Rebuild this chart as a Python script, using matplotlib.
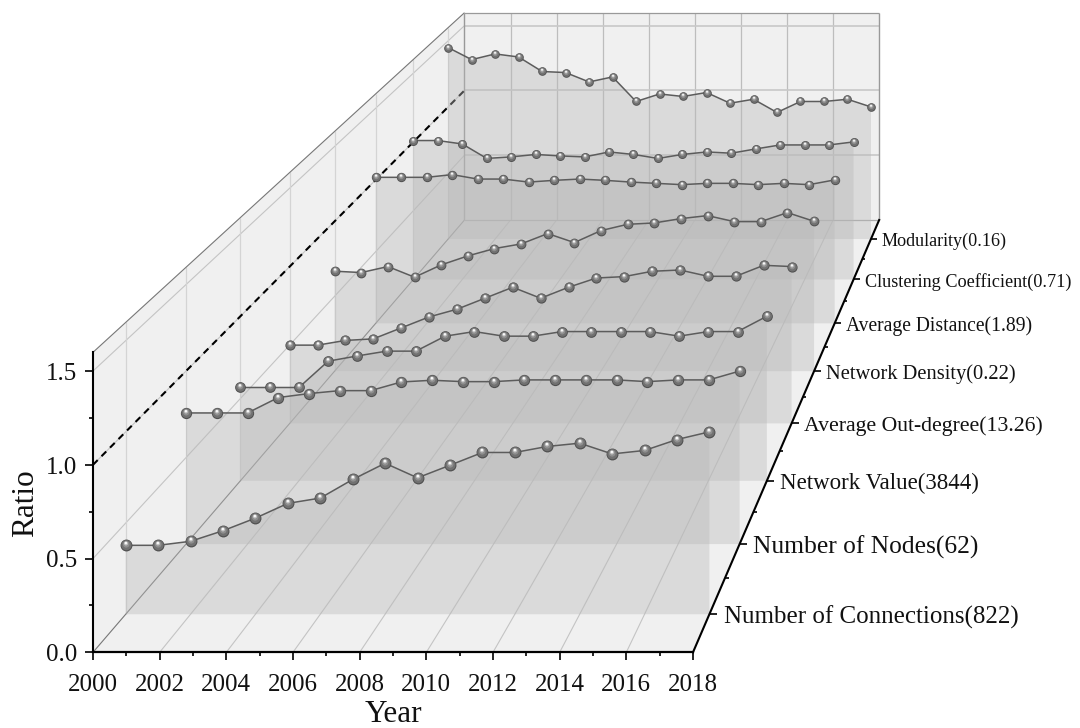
import numpy as np
import matplotlib
matplotlib.use("Agg")
import matplotlib.pyplot as plt
from matplotlib.path import Path
from mpl_toolkits.mplot3d.art3d import Poly3DCollection

plt.rcParams['font.family'] = ['Liberation Serif', 'DejaVu Serif']

years = list(range(2000, 2019))
categories = ["Number of Connections(822)", "Number of Nodes(62)", "Network Value(3844)",
              "Average Out-degree(13.26)", "Network Density(0.22)", "Average Distance(1.89)",
              "Clustering Coefficient(0.71)", "Modularity(0.16)"]
connections = [.378,.378,.40,.458,.527,.608,.637,.739,.828,.748,.817,.887,.887,.92,.938,.879,.898,.958,1.0]
nodes = [.758,.758,.758,.847,.87,.887,.887,.937,.947,.939,.939,.949,.949,.949,.949,.939,.949,.949,1.0]
net_value = [.567,.567,.567,.727,.759,.788,.788,.879,.907,.879,.879,.907,.907,.907,.907,.879,.907,.907,1.0]
out_degree = [.499,.499,.529,.539,.609,.679,.728,.798,.868,.798,.868,.927,.936,.97,.978,.938,.938,1.008,1.0]
density = [.667,.658,.698,.627,.709,.769,.818,.849,.918,.858,.938,.98,.989,1.018,1.038,.998,.998,1.058,1.0]
distance = [1.018,1.018,1.018,1.037,1.006,1.006,.985,.997,1.006,.997,.985,.976,.967,.976,.976,.967,.976,.967,1.0]
clustering = [1.01,1.01,.985,.88,.891,.909,.898,.891,.927,.909,.88,.909,.927,.918,.949,.978,.978,.978,1.0]
modularity = [1.449,1.358,1.401,1.378,1.268,1.26,1.189,1.227,1.041,1.098,1.079,1.109,1.028,1.058,.958,1.041,1.041,1.058,1.0]
series = [connections, nodes, net_value, out_degree, density, distance, clustering, modularity]

XMIN, XMAX, DMIN, DMAX, ZMIN, ZMAX = 2000, 2018, 0, 8, 0, 1.6
# Camera: front face and back face rectangles in picture pixels (perspective)
FX0, FX1, FY0, FY1 = 93.0, 693.0, 652.3, 352.3
BX0, BY0 = 464.5, 220.0
R = 1.447
PW, PH = 1080, 728
LABEL_SCALE = [1.0, 1.076, 1.015, 1.01, 1.0, 1.0, 0.97, 1.0]

fig = plt.figure(figsize=(PW / 100, PH / 100), dpi=100, facecolor='white')
ax = fig.add_axes([0, 0, 1, 1], projection='3d', computed_zorder=False, proj_type='ortho')
ax.set_xlim(XMIN, XMAX)
ax.set_ylim(DMIN, DMAX)
ax.set_zlim(ZMIN, ZMAX)
ax.set_xticks([])
ax.set_yticks([])
ax.set_zticks([])
ax.set_axis_off()

sx = (FX1 - FX0) / (XMAX - XMIN)
sz = (FY0 - FY1) / (ZMAX - ZMIN)
ks = 1.0 / (DMAX - DMIN)
H = np.array([
    [sx, ks * (R * BX0 - FX0), 0, FX0 - sx * XMIN],
    [0, ks * ((R - 1) * PH - (R * BY0 - FY0)), sz, PH - FY0],
    [0, ks * (R - 1), 0, 1.0],
])
_, _, vh = np.linalg.svd(H)
null_row = vh[-1]


def custom_proj():
    T = ax.transData.inverted().get_matrix()
    P = T @ H
    return np.array([P[0], P[1], null_row, P[2]])


ax.get_proj = custom_proj


def W(d):
    return 1 + (R - 1) * ks * d


def label(x, d, z, text, **kw):
    p = H @ np.array([x, d, z, 1.0])
    fig.text(p[0] / p[2] / PW, p[1] / p[2] / PH, text, color='#111111', **kw)


def add_poly(verts, color, alpha=1.0, z=1):
    pc = Poly3DCollection([verts], facecolors=[color], edgecolors='none', linewidths=0, alpha=alpha)
    pc.set_clip_on(False)
    pc.set_zorder(z)
    ax.add_collection3d(pc, autolim=False)


def seg(xs, ys, zs, color, lw, z=2, **kw):
    ax.plot(xs, ys, zs, color=color, lw=lw, zorder=z, clip_on=False, solid_capstyle=kw.pop('cap', 'butt'), **kw)


PANEL = '#f0f0f0'
add_poly([(XMIN, DMAX, 0), (XMAX, DMAX, 0), (XMAX, DMAX, ZMAX), (XMIN, DMAX, ZMAX)], PANEL)
add_poly([(XMIN, DMIN, 0), (XMIN, DMAX, 0), (XMIN, DMAX, ZMAX), (XMIN, DMIN, ZMAX)], PANEL)
add_poly([(XMIN, DMIN, 0), (XMAX, DMIN, 0), (XMAX, DMAX, 0), (XMIN, DMAX, 0)], PANEL)

GRID = '#c4c4c4'
for yr in range(2002, 2018, 2):
    seg([yr, yr], [DMIN, DMAX], [0, 0], GRID, 0.8)
    seg([yr, yr], [DMAX, DMAX], [0, ZMAX], '#bdbdbd', 0.9)
for zv in (0.5, 1.0, 1.5):
    seg([XMIN, XMIN], [DMIN, DMAX], [zv, zv], GRID, 0.8)
    seg([XMIN, XMAX], [DMAX, DMAX], [zv, zv], '#c8c8c8', 1.2)
for i in range(len(categories)):
    seg([XMIN, XMIN], [i + .5, i + .5], [0, ZMAX], '#d4d4d4', 0.9)

# Frame of the box
seg([XMIN, XMIN], [DMIN, DMAX], [ZMAX, ZMAX], '#777777', 0.8, z=3)
seg([XMIN, XMAX], [DMAX, DMAX], [ZMAX, ZMAX], '#999999', 0.9, z=3)
seg([XMIN, XMIN], [DMAX, DMAX], [0, ZMAX], '#999999', 1.0, z=3)
seg([XMAX, XMAX], [DMAX, DMAX], [0, ZMAX], '#999999', 1.0, z=3)
seg([XMIN, XMIN], [DMIN, DMAX], [0, 0], '#777777', 0.8, z=3)
seg([XMIN, XMAX], [DMAX, DMAX], [0, 0], '#aaaaaa', 0.9, z=3)
ax.plot([XMIN, XMIN], [DMIN, DMAX], [1.0, 1.0], color='black', lw=1.5, ls=(0, (3.2, 2.6)), zorder=3, clip_on=False)

# Translucent curtains under each series, back to front
for i in range(len(series) - 1, -1, -1):
    d = i + .5
    vals = series[i]
    verts = [(years[0], d, 0)] + [(y, d, v) for y, v in zip(years, vals)] + [(years[-1], d, 0)]
    add_poly(verts, '#b9b9b9', alpha=0.4, z=4 + (7 - i) * 0.1)

# Sphere markers as stacked offset discs
LAYERS = [(0.50, 0.00, '#4f4f4f'), (0.43, 0.03, '#717171'), (0.28, 0.10, '#8f8f8f'),
          (0.17, 0.17, '#c4c4c4'), (0.10, 0.21, '#fbfbfb')]


def disc(radius, dy):
    p = Path.circle((-0.25 * dy, dy), radius)
    return p, float(np.max(np.abs(p.vertices)))


for i in range(len(series) - 1, -1, -1):
    d = i + .5
    vals = series[i]
    base = 8.8 / W(d)
    z0 = 6 + (7 - i)
    ax.plot(years, [d] * len(years), vals, color='#5c5c5c', lw=1.1, zorder=z0, clip_on=False)
    for k, (r, dy, col) in enumerate(LAYERS):
        p, m = disc(r, dy)
        ax.plot(years, [d] * len(years), vals, ls='none', marker=p, ms=base * 2 * m, mfc=col, mew=0,
                zorder=z0 + 0.1 + k * 0.01, clip_on=False)

# Axes
TOP = 20
seg([XMIN, XMAX], [0, 0], [0, 0], 'black', 1.6, z=TOP, cap='projecting')
seg([XMIN, XMIN], [0, 0], [0, ZMAX], 'black', 1.5, z=TOP, cap='projecting')
seg([XMAX, XMAX], [DMIN, DMAX], [0, 0], 'black', 1.5, z=TOP, cap='projecting')
for yr in range(XMIN, XMAX + 1):
    major = yr % 2 == 0
    seg([yr, yr], [0, 0], [0, -0.04 if major else -0.02], 'black', 1.2, z=TOP)
    if major:
        label(yr, 0, -0.175, str(yr), ha='center', va='center', fontsize=18)
for zv in np.arange(0, 1.51, 0.25):
    major = abs(zv * 2 - round(zv * 2)) < 1e-6
    seg([XMIN, XMIN - (0.25 if major else 0.125)], [0, 0], [zv, zv], 'black', 1.2, z=TOP)
    if major:
        label(XMIN - 0.48, 0, zv - 0.015, f"{zv:.1f}", ha='right', va='center', fontsize=18)
for i, name in enumerate(categories):
    d = i + .5
    seg([XMAX, XMAX + 0.25], [d, d], [0, 0], 'black', 1.2, z=TOP)
    label(XMAX + 0.45, d, -0.018, name, ha='left', va='center', fontsize=18.5 / W(d) * LABEL_SCALE[i])
for d in range(1, 8):
    seg([XMAX, XMAX + 0.125], [d, d], [0, 0], 'black', 1.2, z=TOP)

label(2009, 0, -0.33, "Year", ha='center', va='center', fontsize=22.5)
label(1997.98, 0, 0.796, "Ratio", ha='center', va='center', fontsize=22.5, rotation=90)

fig.savefig('out.png', dpi=100, facecolor='white')
